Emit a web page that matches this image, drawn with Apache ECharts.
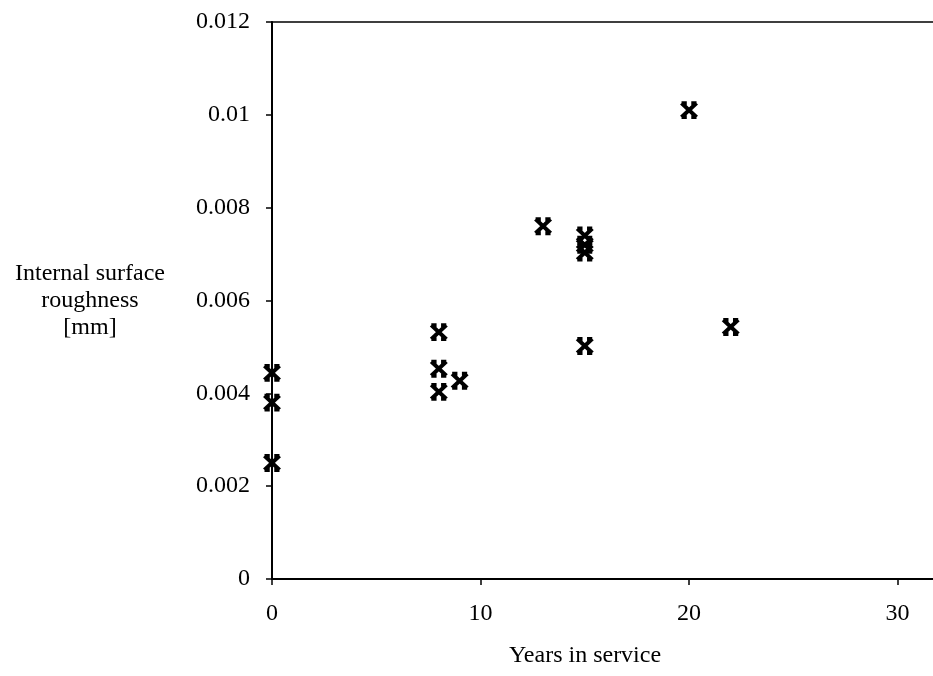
<!DOCTYPE html>
<html>
<head>
<meta charset="utf-8">
<script src="https://cdn.jsdelivr.net/npm/echarts@6/dist/echarts.min.js"></script>
<style>
  html, body { margin: 0; padding: 0; background: #fff; }
  #chart { width: 933px; height: 676px; }
</style>
</head>
<body>
<div id="chart"></div>
<script>
// years in service vs internal surface roughness
var years = [0, 0, 0, 8, 8, 8, 9, 13, 15, 15, 15, 15, 20, 22];
var roughness = [0.00444, 0.0038, 0.0025, 0.00532, 0.00453, 0.00403, 0.00427,
                 0.0076, 0.0074, 0.0072, 0.00703, 0.00502, 0.0101, 0.00543];
var xTitle = 'Years in service';
var yTitle = 'Internal surface\nroughness\n[mm]';

var chart = echarts.init(document.getElementById('chart'));

var serif = 'Liberation Serif';

var option = {
    backgroundColor: '#fff',
    animation: false,
    textStyle: { fontFamily: serif },
    grid: {
        left: 272,
        right: 0,
        top: 22,
        bottom: 97
    },
    graphic: [{
        type: 'text',
        x: 585,
        y: 656,
        style: {
            text: xTitle,
            fontFamily: serif,
            fontSize: 24,
            fill: '#000',
            align: 'center',
            verticalAlign: 'middle'
        }
    }],
    xAxis: [{
        type: 'value',
        min: 0,
        max: 31.7,
        interval: 10,
        splitLine: { show: false },
        axisLine: { lineStyle: { color: '#000', width: 2 } },
        axisTick: { inside: false, length: 6, lineStyle: { color: '#000', width: 1.5 } },
        axisLabel: {
            color: '#000',
            fontFamily: serif,
            fontSize: 24,
            margin: 23,
            showMaxLabel: false,
            formatter: function (v) { return v % 10 === 0 ? v : ''; }
        }
    }, {
        // top edge of the frame
        type: 'value',
        position: 'top',
        min: 0,
        max: 31.7,
        axisLine: { show: true, lineStyle: { color: '#000', width: 1.5 } },
        axisTick: { show: false },
        axisLabel: { show: false },
        splitLine: { show: false }
    }],
    yAxis: {
        type: 'value',
        min: 0,
        max: 0.012,
        interval: 0.002,
        name: yTitle,
        nameLocation: 'middle',
        nameRotate: 0,
        nameGap: 182,
        nameTextStyle: {
            color: '#000',
            fontFamily: serif,
            fontSize: 24,
            align: 'center',
            lineHeight: 27
        },
        splitLine: { show: false },
        axisLine: { lineStyle: { color: '#000', width: 2 } },
        axisTick: { inside: false, length: 6, lineStyle: { color: '#000', width: 1.5 } },
        axisLabel: {
            color: '#000',
            fontFamily: serif,
            fontSize: 24,
            margin: 22
        }
    },
    series: [{
        type: 'scatter',
        xAxisIndex: 0,
        data: years.map(function (x, i) { return [x, roughness[i]]; }),
        symbol: 'path://M0,0L10,10M10,0L0,10M0,0L3.5,0M6.5,0L10,0M0,10L3.5,10M6.5,10L10,10',
        symbolSize: [15, 14],
        itemStyle: {
            color: 'none',
            borderColor: '#000',
            borderWidth: 4,
            opacity: 1
        }
    }]
};

chart.setOption(option);
</script>
</body>
</html>
